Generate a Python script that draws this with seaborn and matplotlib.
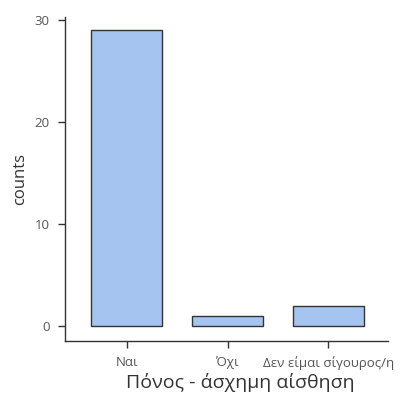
import matplotlib
matplotlib.use("Agg")
import matplotlib.pyplot as plt
import seaborn as sns
import pandas as pd

# ── Data ──────────────────────────────────────────────────────────────────────
categories = ["Ναι", "Όχι", "Δεν είμαι σίγουρος/η"]
counts = [29, 1, 2]
x_label = "Πόνος - άσχημη αίσθηση"
y_label = "counts"
y_ticks = [0, 10, 20, 30]

sns.set_theme(style="white")
plt.rcParams["font.family"] = ["Open Sans", "DejaVu Sans"]

df = pd.DataFrame({"cat": categories, "n": counts})

fig = plt.figure(figsize=(4.0, 3.97), dpi=100)
ax = fig.add_axes([0.1625, 0.141, 0.8075, 0.816])

sns.barplot(data=df, x="cat", y="n", order=categories, color="#a6c4f0",
            saturation=1, width=0.7, edgecolor="#333333", linewidth=1.0, ax=ax)

ax.set_xlim(-0.61, 2.59)
ax.set_ylim(-1.47, 30.3)
ax.set_yticks(y_ticks)
ax.set_xlabel(x_label, fontsize=14, color="#333333")
ax.xaxis.set_label_coords(0.542, -0.1)
ax.set_ylabel(y_label, fontsize=12, color="#333333", labelpad=5)

ax.spines[["top", "right"]].set_visible(False)
for s in ["left", "bottom"]:
    ax.spines[s].set_color("#333333")
    ax.spines[s].set_linewidth(1.0)

ax.tick_params(axis="both", which="both", direction="out", length=5, width=1,
               color="#333333", labelcolor="#555555", labelsize=9.5,
               left=True, bottom=True)
ax.tick_params(axis="y", pad=6)
ax.tick_params(axis="x", pad=6)

fig.savefig("out.png", dpi=100, facecolor="white")
